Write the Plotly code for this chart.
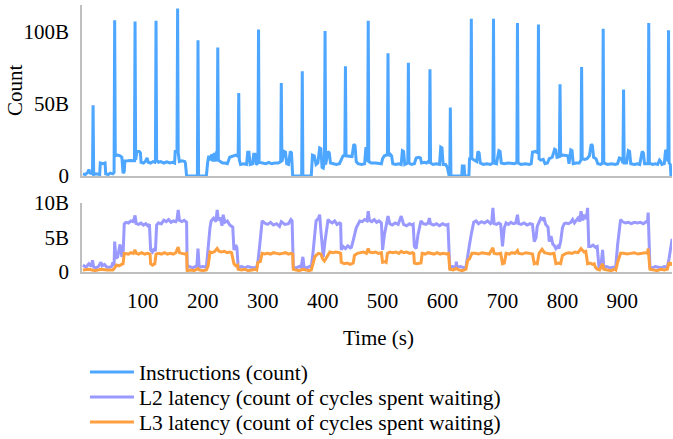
import plotly.graph_objects as go

# ---------------- data (time in s, value in billions) ----------------
instructions_points = [
    (0, 1.5), (4, 1.0), (8, 2.5), (10, 4.5), (12, 2.0), (15, 1.5), (16, 1.5), (17, 49), (18, 1.0),
    (22, 1.5), (26, 0.8), (28, 1.0), (29, 9), (33, 8.5), (37, 9), (38, 1.5), (42, 1.0), (46, 2.0),
    (50, 1.5), (52, 2.5), (53, 108), (54, 14), (58, 14.5), (62, 14), (65, 13), (67, 2), (69, 3),
    (70, 10.4), (75, 10.5), (80, 10.8), (85, 10.5), (86, 10.5), (87, 107), (88, 11), (90, 17),
    (94, 17), (96, 16), (97, 9.5), (101, 9), (104, 10), (107, 12.5), (109, 9.5), (113, 9),
    (117, 10), (120, 9.5), (121, 11), (122, 107.5), (123, 11), (126, 9.5), (130, 10), (135, 9),
    (140, 9.8), (145, 9), (150, 9.5), (153, 9), (154, 17), (157, 17), (158, 116), (159, 16),
    (161, 10), (165, 10.5), (170, 10), (171, 9), (172, 2), (173, 0), (191, 0), (192, 94), (193, 0),
    (206, 0), (208, 9), (210, 14), (213, 11), (215, 15), (217, 10), (219, 16), (221, 10), (223, 17),
    (224, 12), (225, 89), (226, 11), (229, 10), (233, 9), (237, 9), (241, 8.5), (245, 13), (250, 14),
    (255, 14.5), (258, 14), (259, 13), (260, 57.5), (261, 11), (263, 8), (268, 8.5), (273, 8),
    (275, 16.5), (277, 16.5), (279, 8), (283, 8.5), (285, 15), (287, 15), (289, 8), (292, 9),
    (293, 101.5), (294, 9.5), (298, 9), (305, 8.5), (310, 9.5), (315, 8.5), (320, 9), (326, 9),
    (330, 10), (331, 64.5), (332, 10), (336, 17), (338, 16.5), (340, 8.5), (343, 8), (346, 17),
    (348, 16), (349, 8), (350, 0), (365, 0), (366, 72.5), (367, 0), (381, 0), (383, 14.5),
    (386, 14), (389, 8), (392, 9), (395, 19.5), (397, 19), (399, 6), (401, 5.5), (403, 10),
    (404, 100.5), (405, 8), (409, 17), (411, 16), (413, 9), (418, 8.5), (423, 8), (428, 8.5),
    (431, 12), (434, 14), (437, 14.5), (438, 76), (439, 14), (445, 14), (449, 13.5), (452, 22),
    (454, 21), (456, 10), (459, 8.5), (465, 8), (470, 8.5), (472, 19), (474, 19), (475, 10),
    (476, 107.5), (477, 10), (481, 9), (488, 9), (495, 9), (498, 8.5), (500, 12), (503, 14),
    (507, 14.5), (508, 16), (509, 85), (510, 14), (513, 15), (515, 14), (517, 8.5), (522, 8),
    (527, 8.5), (531, 8), (533, 17.5), (535, 17), (537, 8), (541, 9), (542, 9), (543, 78.5),
    (544, 9), (548, 8), (553, 8.5), (556, 12.5), (560, 13), (563, 12.5), (565, 9), (570, 9.5),
    (573, 9), (576, 10), (578, 9), (579, 74), (580, 9), (584, 8), (590, 8.5), (595, 8), (597, 20),
    (599, 19.5), (601, 8), (605, 8), (608, 6), (611, 0), (612, 0), (613, 47.5), (614, 0), (632, 0),
    (633, 7), (636, 7), (637, 0), (644, 0), (645, 12), (647, 12.5), (648, 109), (649, 12),
    (653, 11), (657, 10), (659, 17), (661, 16), (663, 9), (668, 8), (674, 8.5), (680, 8), (684, 9),
    (685, 109), (686, 9), (690, 8.5), (694, 17.5), (696, 17), (698, 9), (703, 8.5), (710, 9),
    (716, 8.5), (720, 8.5), (724, 9.5), (725, 106), (726, 9), (731, 8), (738, 8.5), (745, 8),
    (748, 8.5), (750, 16.5), (755, 17), (759, 16), (760, 105), (761, 12), (764, 11), (768, 11.5),
    (771, 8.5), (775, 9), (778, 12), (783, 13), (787, 18.5), (789, 18), (791, 13), (795, 13.5),
    (796, 63.5), (797, 14), (800, 14.5), (805, 14), (809, 14), (811, 8.5), (814, 18), (816, 17.5),
    (818, 8.5), (823, 9), (828, 9), (831, 11), (832, 75.5), (833, 12), (837, 11.5), (841, 12),
    (845, 14), (848, 22), (850, 21), (852, 13), (856, 12), (859, 8.5), (864, 8), (867, 9),
    (868, 102), (869, 9), (875, 8), (882, 8.5), (888, 8), (892, 8.5), (895, 12.5), (898, 12),
    (901, 9), (902, 60), (903, 9), (907, 9), (910, 17.5), (912, 17), (914, 8.5), (920, 8),
    (925, 8.5), (929, 8), (933, 17), (935, 16), (937, 8.5), (941, 8.5), (943, 8.5), (944, 106),
    (945, 9), (950, 8), (955, 8.5), (959, 8), (962, 11), (964, 10), (966, 8), (970, 8.5), (972, 18),
    (974, 17), (976, 10), (977, 101), (978, 9), (980, 8), (981, 0), (983, 0),
]

l2_points = [
    (0, 1.0), (5, 0.7), (10, 1.2), (14, 0.8), (16, 1.7), (18, 0.7), (22, 0.6), (26, 0.8), (30, 1.4),
    (32, 0.9), (36, 1.1), (40, 0.7), (45, 0.7), (48, 0.8), (50, 1.4), (52, 0.9), (53, 4.4), (55, 2.0),
    (58, 2.2), (62, 4.0), (65, 2.2), (67, 2.5), (69, 7.0), (72, 7.2), (76, 7.1), (80, 7.4), (84, 7.3),
    (87, 8.2), (89, 7.0), (93, 6.9), (97, 7.1), (101, 6.8), (105, 7.0), (108, 6.7), (111, 6.9),
    (113, 3.2), (116, 2.9), (119, 3.4), (121, 3.0), (123, 6.8), (126, 7.1), (131, 7.0), (135, 7.5),
    (139, 7.3), (143, 7.6), (147, 7.2), (151, 7.4), (155, 7.3), (157, 7.6), (159, 9.0), (161, 7.5),
    (165, 7.3), (169, 7.5), (173, 7.2), (174, 0.7), (178, 0.8), (183, 0.6), (188, 0.8), (190, 0.7),
    (192, 3.4), (194, 0.7), (200, 0.8), (206, 0.7), (209, 3.9), (212, 6.4), (214, 7.4), (218, 7.8),
    (222, 7.3), (224, 9.0), (226, 7.5), (229, 7.9), (232, 6.7), (234, 8.3), (237, 7.2), (241, 7.4),
    (245, 6.8), (248, 6.6), (250, 6.5), (252, 3.2), (255, 3.9), (257, 3.5), (259, 0.7), (265, 0.8),
    (270, 0.6), (275, 0.8), (280, 0.7), (285, 0.6), (290, 0.7), (292, 1.5), (295, 3.9), (299, 7.4),
    (303, 7.1), (308, 6.9), (313, 7.2), (318, 6.8), (323, 7.0), (328, 6.6), (331, 7.3), (337, 6.9),
    (343, 7.0), (347, 7.6), (349, 7.4), (351, 0.7), (356, 0.6), (361, 0.8), (364, 0.7), (367, 2.2),
    (369, 0.7), (374, 0.6), (378, 0.8), (381, 0.7), (384, 2.9), (387, 5.5), (389, 7.4), (393, 7.8),
    (395, 8.3), (397, 6.0), (399, 3.4), (401, 2.2), (404, 4.5), (406, 5.9), (409, 7.6), (412, 7.3),
    (416, 7.1), (420, 7.4), (424, 6.9), (428, 7.1), (430, 7.0), (431, 3.2), (434, 3.7), (438, 3.4),
    (442, 3.8), (446, 3.5), (448, 3.6), (451, 4.6), (453, 5.4), (456, 6.4), (462, 7.4), (466, 7.3),
    (470, 7.6), (474, 7.4), (476, 8.8), (478, 7.5), (482, 7.3), (486, 7.6), (490, 7.2), (494, 7.4),
    (498, 7.1), (500, 3.2), (503, 5.4), (507, 7.2), (509, 8.1), (512, 7.0), (516, 6.8), (521, 7.1),
    (526, 6.9), (531, 8.1), (535, 6.9), (540, 6.7), (545, 7.0), (549, 6.8), (551, 6.9), (553, 3.7),
    (556, 3.4), (559, 5.4), (564, 7.4), (568, 7.0), (572, 6.9), (576, 7.1), (578, 7.8), (580, 7.0),
    (585, 6.8), (590, 7.0), (595, 6.7), (600, 7.0), (605, 6.8), (609, 6.9), (612, 0.7), (617, 0.8),
    (622, 0.6), (623, 1.5), (624, 0.7), (630, 0.8), (636, 0.6), (639, 0.7), (642, 2.7), (645, 4.0),
    (648, 5.5), (652, 7.2), (656, 7.4), (660, 7.0), (665, 7.3), (670, 7.1), (675, 7.4), (680, 7.0),
    (682, 7.2), (684, 9.3), (686, 7.0), (690, 6.9), (694, 7.1), (697, 6.9), (700, 3.7), (703, 6.4),
    (706, 7.1), (710, 6.9), (714, 7.2), (718, 7.0), (722, 7.1), (725, 8.3), (727, 7.0), (731, 6.9),
    (736, 7.1), (741, 6.8), (746, 7.0), (750, 6.9), (753, 4.4), (756, 5.0), (758, 6.6), (761, 7.1),
    (764, 7.8), (767, 7.6), (769, 7.9), (772, 6.9), (776, 6.5), (778, 4.4), (781, 5.2), (784, 4.0),
    (786, 3.9), (789, 3.4), (792, 3.7), (794, 3.4), (797, 4.4), (800, 6.4), (803, 7.0), (806, 7.1),
    (810, 7.0), (814, 7.2), (817, 7.6), (820, 7.1), (823, 7.4), (826, 7.8), (829, 7.3), (831, 8.8),
    (834, 7.5), (837, 8.3), (840, 7.7), (842, 9.3), (844, 3.7), (847, 3.7), (851, 3.9), (855, 3.6),
    (858, 3.7), (861, 0.7), (864, 0.7), (867, 3.2), (869, 0.7), (874, 0.8), (879, 0.6), (884, 0.7),
    (889, 0.8), (892, 3.9), (897, 7.6), (900, 7.3), (905, 7.1), (910, 7.2), (915, 7.0), (920, 7.2),
    (925, 7.1), (930, 7.2), (935, 7.0), (940, 7.3), (942, 7.2), (943, 8.6), (946, 0.7), (950, 0.6),
    (955, 0.8), (960, 0.7), (965, 0.6), (970, 0.8), (975, 0.7), (978, 2.0), (981, 3.9), (983, 4.8),
]

l3_points = [
    (0, 0.3), (10, 0.4), (20, 0.2), (30, 0.4), (40, 0.3), (50, 0.3), (53, 0.6), (56, 1.0), (60, 0.9),
    (64, 1.1), (67, 1.2), (69, 2.7), (72, 2.7), (76, 2.6), (80, 2.8), (84, 2.7), (87, 3.2), (89, 2.7),
    (93, 2.6), (98, 2.8), (103, 2.6), (108, 2.7), (112, 2.6), (113, 1.2), (116, 1.0), (120, 1.2),
    (122, 2.6), (126, 2.7), (131, 2.6), (136, 2.8), (141, 2.6), (146, 2.7), (151, 2.6), (155, 2.8),
    (159, 3.6), (161, 2.8), (165, 2.7), (170, 2.6), (173, 2.7), (174, 0.2), (180, 0.3), (186, 0.2),
    (192, 0.5), (194, 0.3), (200, 0.2), (206, 0.3), (209, 0.9), (212, 2.9), (216, 2.8), (220, 3.0),
    (224, 3.4), (227, 3.0), (231, 2.9), (236, 3.0), (241, 2.8), (245, 2.9), (248, 2.8), (252, 1.2),
    (255, 0.9), (258, 1.0), (259, 0.4), (265, 0.3), (270, 0.4), (276, 0.2), (282, 0.3), (288, 0.4),
    (290, 0.3), (292, 1.4), (296, 1.5), (299, 2.7), (303, 2.6), (308, 2.7), (313, 2.6), (318, 2.8),
    (323, 2.7), (328, 2.6), (333, 2.7), (338, 2.8), (343, 2.6), (348, 2.7), (350, 2.6), (351, 0.4),
    (356, 0.3), (361, 0.2), (367, 0.4), (372, 0.3), (377, 0.2), (381, 0.3), (384, 1.4), (387, 2.2),
    (389, 2.4), (393, 2.7), (397, 2.6), (400, 1.9), (403, 1.6), (406, 2.0), (409, 2.4), (412, 2.9),
    (417, 2.8), (422, 2.9), (428, 2.8), (430, 2.7), (431, 1.4), (436, 1.2), (441, 1.3), (446, 1.1),
    (451, 1.3), (453, 2.4), (458, 2.7), (463, 2.8), (468, 2.9), (473, 2.7), (476, 3.4), (478, 2.9),
    (483, 2.8), (488, 2.9), (493, 2.7), (498, 2.8), (500, 1.4), (504, 1.5), (506, 1.4), (508, 2.7),
    (512, 2.9), (517, 2.8), (522, 2.9), (527, 2.7), (531, 3.0), (535, 2.8), (540, 2.9), (545, 2.7),
    (550, 2.8), (552, 2.7), (553, 1.3), (557, 1.2), (561, 1.2), (564, 1.3), (566, 2.7), (571, 2.6),
    (576, 2.8), (581, 2.7), (586, 2.6), (591, 2.8), (596, 2.6), (601, 2.7), (606, 2.6), (610, 2.7),
    (612, 0.4), (618, 0.3), (623, 0.5), (627, 0.3), (633, 0.2), (639, 0.4), (642, 1.7), (645, 1.9),
    (649, 2.7), (654, 2.7), (660, 2.6), (666, 2.8), (672, 2.7), (678, 2.6), (684, 3.5), (686, 2.7),
    (691, 2.6), (697, 2.7), (700, 1.2), (703, 1.3), (706, 2.7), (711, 2.6), (716, 2.8), (721, 2.7),
    (725, 3.1), (727, 2.7), (733, 2.6), (739, 2.8), (745, 2.7), (750, 2.6), (753, 1.2), (756, 1.3),
    (758, 1.2), (761, 2.7), (766, 3.3), (770, 2.8), (775, 2.7), (780, 2.6), (786, 2.7), (789, 1.2),
    (793, 1.3), (797, 1.2), (800, 2.4), (806, 2.7), (811, 2.8), (816, 2.7), (821, 2.9), (826, 2.8),
    (831, 3.4), (836, 2.9), (839, 3.0), (842, 1.2), (846, 1.3), (850, 1.1), (853, 1.2), (855, 0.7),
    (858, 0.4), (862, 0.3), (867, 1.2), (869, 0.4), (875, 0.3), (881, 0.2), (887, 0.4), (889, 0.3),
    (892, 1.4), (897, 2.7), (902, 2.7), (908, 2.6), (914, 2.7), (920, 2.8), (926, 2.6), (932, 2.7),
    (938, 2.8), (942, 2.7), (943, 3.4), (946, 0.4), (952, 0.3), (958, 0.2), (964, 0.4), (970, 0.3),
    (975, 0.4), (978, 1.4), (981, 1.0), (983, 1.4),
]

series_names = [
    "Instructions (count)",
    "L2 latency (count of cycles spent waiting)",
    "L3 latency (count of cycles spent waiting)",
]
series_colors = ["#4DA6FF", "#9999FF", "#FFA040"]

x_ticks = [100, 200, 300, 400, 500, 600, 700, 800, 900]
top_y_ticks = [0, 50, 100]
top_y_labels = ["0", "50B", "100B"]
bottom_y_ticks = [0, 5, 10]
bottom_y_labels = ["0", "5B", "10B"]

# ---------------- figure ----------------
FONT = dict(family="Liberation Serif", size=21, color="black")
LEGEND_FONT = dict(family="Liberation Serif", size=21.5, color="black")
AXIS_COLOR = "#BFBFBF"

fig = go.Figure()


def unzip(points):
    return [p[0] for p in points], [p[1] for p in points]


it, iv = unzip(instructions_points)
l2t, l2v = unzip(l2_points)
l3t, l3v = unzip(l3_points)

fig.add_trace(go.Scatter(x=it, y=iv, mode="lines", name=series_names[0], legend="legend",
                         line=dict(color=series_colors[0], width=3), xaxis="x", yaxis="y"))
fig.add_trace(go.Scatter(x=l2t, y=l2v, mode="lines", name=series_names[1], legend="legend2",
                         line=dict(color=series_colors[1], width=3), xaxis="x2", yaxis="y2"))
fig.add_trace(go.Scatter(x=l3t, y=l3v, mode="lines", name=series_names[2], legend="legend3",
                         line=dict(color=series_colors[2], width=3), xaxis="x2", yaxis="y2"))

H_PLOT = 267.0
top_dom = [(272 - 176) / H_PLOT, 1.0]
bot_dom = [0.0, (272 - 203) / H_PLOT]
XR = [-1.5, 982.8]


def legend_at(top_px):
    return dict(x=0.005, y=(272 - top_px) / H_PLOT, xanchor="left", yanchor="top",
                font=LEGEND_FONT, bgcolor="rgba(0,0,0,0)", itemwidth=44)


fig.update_layout(
    width=673, height=439,
    margin=dict(l=82, r=1, t=5, b=167, autoexpand=False),
    paper_bgcolor="white", plot_bgcolor="white",
    font=FONT,
    showlegend=True,
    legend=legend_at(351.5),
    legend2=legend_at(376.5),
    legend3=legend_at(401.5),
    xaxis=dict(domain=[0, 1], anchor="y", range=XR, showline=True, linecolor=AXIS_COLOR,
               linewidth=1.5, showgrid=False, zeroline=False, showticklabels=False, ticks=""),
    yaxis=dict(domain=top_dom, anchor="x", range=[0, 118.5], showline=True, linecolor=AXIS_COLOR,
               linewidth=1.5, showgrid=False, zeroline=False, tickvals=top_y_ticks,
               ticktext=top_y_labels, ticks="", ticklabelstandoff=7, tickfont=FONT),
    xaxis2=dict(domain=[0, 1], anchor="y2", range=XR, showline=True, linecolor=AXIS_COLOR,
                linewidth=1.5, showgrid=False, zeroline=False, tickvals=x_ticks, ticks="",
                ticklabelstandoff=9, tickfont=FONT),
    yaxis2=dict(domain=bot_dom, anchor="x2", range=[0, 10], showline=True, linecolor=AXIS_COLOR,
                linewidth=1.5, showgrid=False, zeroline=False, tickvals=bottom_y_ticks,
                ticktext=bottom_y_labels, ticks="", ticklabelstandoff=7, tickfont=FONT),
    annotations=[
        dict(text="Count", xref="paper", yref="paper", x=(15 - 82) / 590, y=(272 - 90) / H_PLOT,
             textangle=-90, showarrow=False, xanchor="center", yanchor="middle", font=FONT),
        dict(text="Time (s)", xref="paper", yref="paper", x=(378 - 82) / 590, y=(272 - 338) / H_PLOT,
             showarrow=False, xanchor="center", yanchor="middle", font=FONT),
    ],
)

fig.write_html("out.html", config={"displayModeBar": False})
